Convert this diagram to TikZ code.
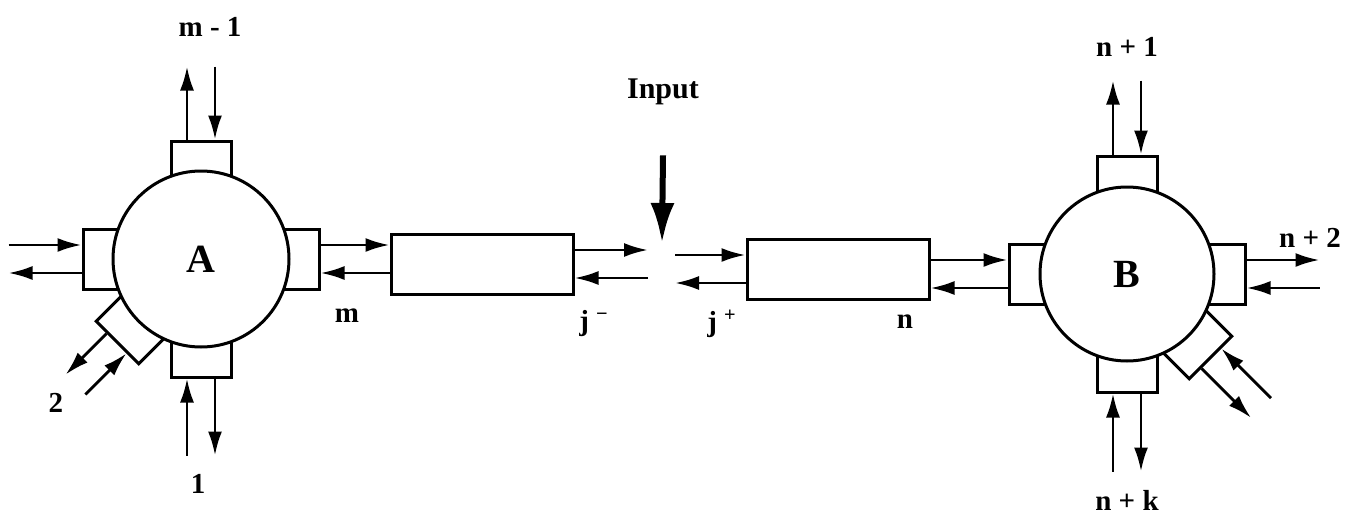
\documentclass[tikz,border=0pt]{standalone}
\usepackage{fontspec}
\setmainfont{Liberation Serif}
\usetikzlibrary{arrows.meta, positioning, calc}

\begin{document}
\begin{tikzpicture}[x=0.5pt, y=0.5pt,
  every node/.style={font=\bfseries\fontsize{14.5}{16}\selectfont, inner sep=1pt},
  hub/.style={circle, draw, fill=white, line width=1.5pt, inner sep=0pt, font=\bfseries\fontsize{20}{22}\selectfont},
  port/.style={draw, fill=white, line width=1.5pt, minimum width=20pt, minimum height=30pt, inner sep=0pt},
  linebox/.style={draw, line width=1.5pt, minimum width=91pt, minimum height=30pt, inner sep=0pt},
  wire/.style={line width=1.4pt, -{Latex[length=12pt, width=7pt]}},
  feed/.style={line width=3pt, -{Latex[length=20pt, width=12pt]}}]
\useasboundingbox (0,0) rectangle (1345,516);

\coordinate (Ac) at (201,257);
\coordinate (Bc) at (1127,242);

% ports first, the hubs cover their inner ends
\foreach \pt/\hub/\ang/\s in {At/Ac/90/+90, Al/Ac/180/+90, Ab/Ac/270/+90, Ar/Ac/0/+90, Ad/Ac/225/-90,
                              Bt/Bc/90/+90, Br/Bc/0/+90, Bb/Bc/270/+90, Bl/Bc/180/+90, Bd/Bc/315/-90}
{
  \node[port, rotate=\ang] (\pt) at ($(\hub)+(\ang:98)$) {};
  \coordinate (\pt-o) at ($(\pt.east)+({\ang\s}:14)$);
  \coordinate (\pt-i) at ($(\pt.east)-({\ang\s}:14)$);
}

\node[hub, minimum size=88pt] (A) at (Ac) {A};
\node[hub, minimum size=87pt] (B) at (Bc) {B};

% open ports
\foreach \pt/\ang/\len in {At/90/73, Al/180/73, Ab/270/77, Ad/225/58, Bt/90/74, Br/0/73, Bb/270/78, Bd/315/70}
{
  \coordinate (\pt-O) at ($(\pt-o)+(\ang:\len)$);
  \coordinate (\pt-I) at ($(\pt-i)+(\ang:\len)$);
  \draw[wire] (\pt-o) -- (\pt-O);
  \draw[wire] (\pt-I) -- (\pt-i);
}

% lines
\node[linebox] (L1) at (482,252) {};
\node[linebox] (L2) at (838,247) {};
\coordinate (jm) at (648,250);
\coordinate (jp) at (675,250);
\coordinate (jin) at (662,273);

\draw[wire] (Ar-o) -- (Ar-o -| L1.west);
\draw[wire] (Ar-i -| L1.west) -- (Ar-i);
\draw[wire] ([yshift=7pt]L1.east) -- ([yshift=7pt]L1.east -| jm);
\draw[wire] ([yshift=-7pt]L1.east -| jm) -- ([yshift=-7pt]L1.east);
\draw[wire] ([yshift=7pt]L2.west -| jp) -- ([yshift=7pt]L2.west);
\draw[wire] ([yshift=-7pt]L2.west) -- ([yshift=-7pt]L2.west -| jp);
\draw[wire] (Bl-i -| L2.east) -- (Bl-i);
\draw[wire] (Bl-o) -- (Bl-o -| L2.east);

\node[font=\bfseries\fontsize{15}{17}\selectfont] (input) at (663,424) {Input};
\draw[feed] ([yshift=-24pt]input.south) -- (jin);

% labels
\node (lm1) at (210,489) {m - 1};
\node (l2) at (56,113) {2};
\node (l1) at (198,32) {1};
\node (lm) at (347,200) {m};
\node (ljm) at (594,192) {j \textsuperscript{−}};
\node (ljp) at (722,192) {j \textsuperscript{+}};
\node (ln) at (905,194) {n};
\node (ln1) at (1127,469) {n + 1};
\node (ln2) at (1310,278) {n + 2};
\node (lnk) at (1127,16) {n + k};
\end{tikzpicture}
\end{document}
